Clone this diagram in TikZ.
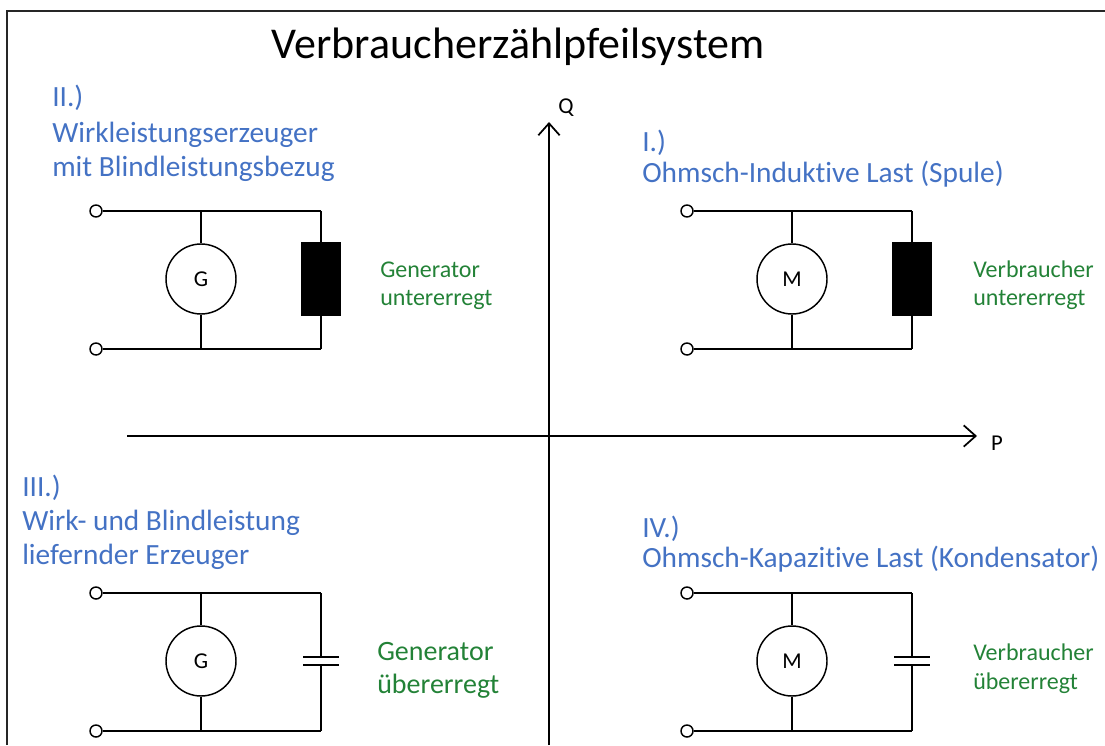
\documentclass[tikz,border=0pt]{standalone}
\usepackage{fontspec}
\setmainfont[Ligatures=NoCommon]{Carlito}
\usetikzlibrary{arrows.meta,positioning}
\definecolor{headblue}{RGB}{68,114,196}
\definecolor{notegreen}{RGB}{35,130,55}

\tikzset{
  wire/.style={line width=1.1pt},
  terminal/.style={circle, draw, line width=1.1pt, fill=white, minimum size=9pt, inner sep=0pt},
  machine/.style={circle, draw, line width=1.1pt, minimum size=52.5pt, inner sep=0pt, font=\fontsize{17}{19}\selectfont},
  coil/.style={rectangle, draw, line width=1.1pt, fill=black, minimum width=28.5pt, minimum height=54pt, inner sep=0pt},
  capac/.style={rectangle, minimum width=26pt, minimum height=6pt, inner sep=0pt},
  plate/.style={line width=1.4pt},
  heading/.style={anchor=base west, inner sep=0pt, text=headblue, font=\fontsize{22}{26}\selectfont},
  remark/.style={anchor=base west, inner sep=0pt, text=notegreen, font=\fontsize{18}{22}\selectfont},
  axis/.style={line width=1.1pt, -{Straight Barb[length=9pt,width=16pt,line width=1.3pt]}},
  axislabel/.style={inner sep=0pt, font=\fontsize{17}{19}\selectfont},
}

\begin{document}
\begin{tikzpicture}[x=0.75pt,y=-0.75pt]
  \useasboundingbox (0,0) rectangle (1105,745);
  % frame
  \draw[line width=1.2pt, black!85] (7,745) -- (7,11) -- (1105,11);
  % title
  \node[anchor=base, inner sep=0pt, font=\fontsize{33}{38}\selectfont] (title) at (518,59) {Verbraucherzählpfeilsystem};

  % axes
  \coordinate (p0) at (127,436);
  \coordinate (p1) at (977,436);
  \coordinate (q0) at (549,745);
  \coordinate (q1) at (549,122);
  \draw[axis] (p0) -- (p1);
  \draw[axis] (q0) -- (q1);
  \node[axislabel] (qlabel) at (566,108) {Q};
  \node[axislabel] (plabel) at (997,443) {P};

  % circuits: terminals, machine, wires
  \foreach \cx/\cy/\mlabel/\nm in {0/0/G/two, 591/0/M/one, 0/382/G/three, 591/382/M/four} {
    \node[terminal] (\nm-a) at (96+\cx,211+\cy) {};
    \node[terminal] (\nm-b) at (96+\cx,349+\cy) {};
    \node[machine] (\nm-m) at (201+\cx,279+\cy) {\mlabel};
    \coordinate (\nm-ta) at (201+\cx,211+\cy);
    \coordinate (\nm-ba) at (201+\cx,349+\cy);
    \coordinate (\nm-tc) at (321+\cx,211+\cy);
    \coordinate (\nm-bc) at (321+\cx,349+\cy);
    \coordinate (\nm-x) at (321+\cx,279+\cy);
    \draw[wire] (\nm-a) -- (\nm-tc);
    \draw[wire] (\nm-b) -- (\nm-bc);
    \draw[wire] (\nm-ta) -- (\nm-m.north);
    \draw[wire] (\nm-m.south) -- (\nm-ba);
  }
  % inductive branch
  \foreach \nm in {two,one} {
    \node[coil] (\nm-e) at (\nm-x) {};
    \draw[wire] (\nm-tc) -- (\nm-e.north);
    \draw[wire] (\nm-e.south) -- (\nm-bc);
  }
  % capacitive branch
  \foreach \nm in {three,four} {
    \node[capac] (\nm-e) at (\nm-x) {};
    \draw[plate] (\nm-e.north west) -- (\nm-e.north east);
    \draw[plate] (\nm-e.south west) -- (\nm-e.south east);
    \draw[wire] (\nm-tc) -- (\nm-e.north);
    \draw[wire] (\nm-e.south) -- (\nm-bc);
  }

  % quadrant headings
  \node[heading] (h2a) at (52,107) {II.)};
  \node[heading] (h2b) at (52,143) {Wirkleistungserzeuger};
  \node[heading] (h2c) at (52,177) {mit Blindleistungsbezug};
  \node[heading] (h1a) at (642,152) {I.)};
  \node[heading] (h1b) at (642,183) {Ohmsch-Induktive Last (Spule)};
  \node[heading] (h3a) at (22,496) {III.)};
  \node[heading] (h3b) at (22,530) {Wirk- und Blindleistung};
  \node[heading] (h3c) at (22,564) {liefernder Erzeuger};
  \node[heading] (h4a) at (642,537) {IV.)};
  \node[heading] (h4b) at (642,567) {Ohmsch-Kapazitive Last (Kondensator)};

  % operating remarks
  \node[remark] (r2a) at (380,277) {Generator};
  \node[remark] (r2b) at (380,305) {untererregt};
  \node[remark] (r1a) at (973,277) {Verbraucher};
  \node[remark] (r1b) at (973,305) {untererregt};
  \node[remark, font=\fontsize{21}{25}\selectfont] (r3a) at (377,660) {Generator};
  \node[remark, font=\fontsize{21}{25}\selectfont] (r3b) at (377,693) {übererregt};
  \node[remark] (r4a) at (973,660) {Verbraucher};
  \node[remark] (r4b) at (973,689) {übererregt};
\end{tikzpicture}
\end{document}
